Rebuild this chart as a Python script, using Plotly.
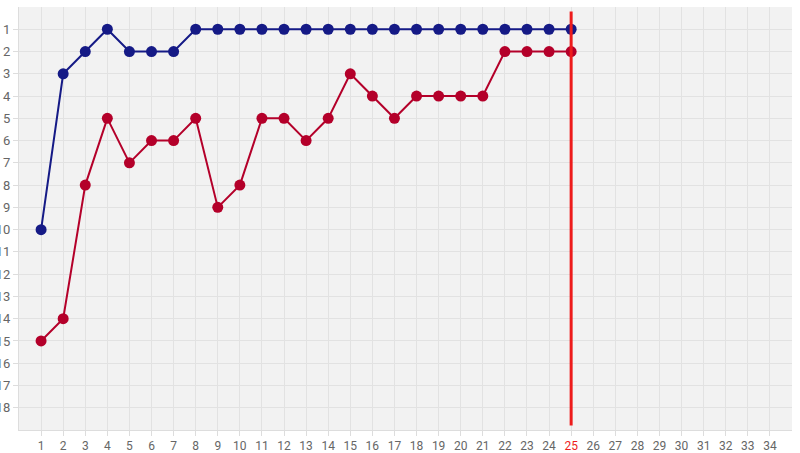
"""
Posiciones por jornada - dos equipos
"""

import plotly.graph_objects as go

# Jornadas y posiciones
jornadas = list(range(1, 26))
pos_azul = [10, 3, 2, 1, 2, 2, 2, 1, 1, 1, 1, 1, 1, 1, 1, 1, 1, 1, 1, 1, 1, 1, 1, 1, 1]
pos_rojo = [15, 14, 8, 5, 7, 6, 6, 5, 9, 8, 5, 5, 6, 5, 3, 4, 5, 4, 4, 4, 4, 2, 2, 2, 2]

jornada_actual = 25
ticks_x = list(range(1, 35))
ticks_y = list(range(1, 19))

color_azul = '#151a86'
color_rojo = '#b4002a'
color_linea = '#ee1c1c'

fig = go.Figure()

fig.add_trace(go.Scatter(
    x=jornadas, y=pos_rojo, mode='lines+markers',
    line=dict(color=color_rojo, width=2),
    marker=dict(color=color_rojo, size=11),
    showlegend=False
))

fig.add_trace(go.Scatter(
    x=jornadas, y=pos_azul, mode='lines+markers',
    line=dict(color=color_azul, width=2),
    marker=dict(color=color_azul, size=11),
    showlegend=False
))

# Línea de la jornada actual
fig.add_shape(
    type='line', x0=jornada_actual, x1=jornada_actual, y0=0.2, y1=18.8,
    xref='x', yref='y', line=dict(color=color_linea, width=3), layer='above'
)

ticktext_x = [
    f'<span style="color:{color_linea}">{t}</span>' if t == jornada_actual else str(t)
    for t in ticks_x
]

fig.update_layout(
    width=800, height=453,
    margin=dict(l=19, r=8, t=7, b=23),
    plot_bgcolor='#f2f2f2',
    paper_bgcolor='white',
    font=dict(family='Roboto', size=12, color='#666666'),
    hovermode='closest'
)

fig.update_xaxes(
    range=[0, 35], tickvals=ticks_x, ticktext=ticktext_x, automargin=False,
    showgrid=True, gridcolor='#e2e2e2', gridwidth=1,
    zeroline=False, showline=True, linecolor='#dddddd', linewidth=1,
    ticks='outside', ticklen=5, tickcolor='#dddddd'
)

fig.update_yaxes(
    range=[19, 0], tickvals=ticks_y, automargin=False, tickfont=dict(size=13),
    showgrid=True, gridcolor='#e2e2e2', gridwidth=1,
    zeroline=False, showline=True, linecolor='#dddddd', linewidth=1,
    ticks='outside', ticklen=5, tickcolor='#dddddd'
)

# Quitar el margen por defecto del body para que el gráfico ocupe toda la ventana
fig.write_html(
    "out.html",
    config={'displayModeBar': False},
    post_script="document.body.style.margin='0';"
)
